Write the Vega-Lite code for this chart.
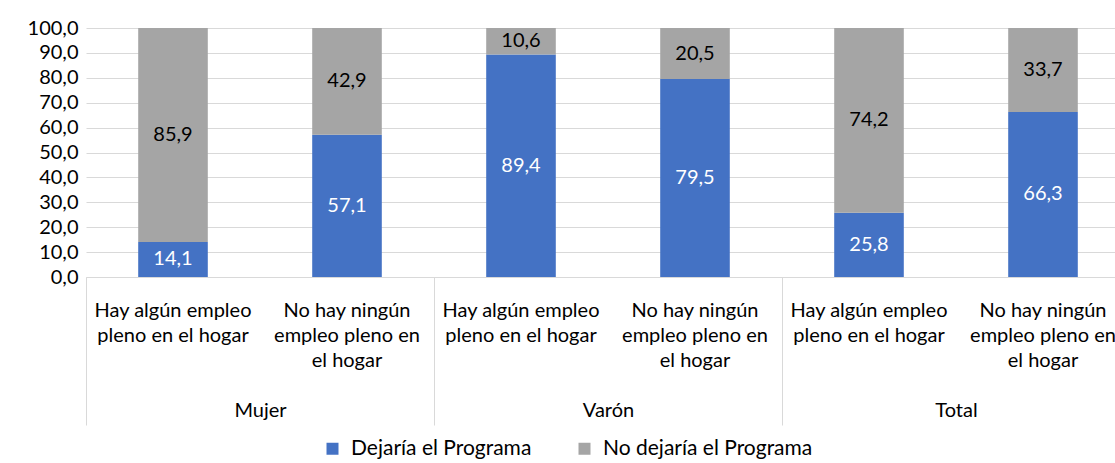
{
  "$schema": "https://vega.github.io/schema/vega-lite/v6.json",
  "autosize": {"type": "none"},
  "padding": {"left": 86, "top": 28, "right": 0, "bottom": 186},
  "width": 1044,
  "height": 249,
  "config": {
    "font": "Lato",
    "view": {"stroke": null},
    "locale": {"number": {"decimal": ",", "thousands": ".", "grouping": [3], "currency": ["", " €"]}},
    "axis": {"labelFont": "Lato", "labelColor": "#000000", "title": null},
    "axisY": {"values": [0, 10, 20, 30, 40, 50, 60, 70, 80, 90, 100], "format": ".1f", "labelFontSize": 20, "labelPadding": 8, "labelOverlap": false, "domain": false, "ticks": false, "grid": true, "gridColor": "#d9d9d9"}
  },
  "data": {
    "values": [
      {"cat": "Mujer|Hay algún empleo|pleno en el hogar", "group": "Mujer", "serie": "Dejaría el Programa", "value": 14.1},
      {"cat": "Mujer|Hay algún empleo|pleno en el hogar", "group": "Mujer", "serie": "No dejaría el Programa", "value": 85.9},
      {"cat": "Mujer|No hay ningún|empleo pleno en|el hogar", "group": "Mujer", "serie": "Dejaría el Programa", "value": 57.1},
      {"cat": "Mujer|No hay ningún|empleo pleno en|el hogar", "group": "Mujer", "serie": "No dejaría el Programa", "value": 42.9},
      {"cat": "Varón|Hay algún empleo|pleno en el hogar", "group": "Varón", "serie": "Dejaría el Programa", "value": 89.4},
      {"cat": "Varón|Hay algún empleo|pleno en el hogar", "group": "Varón", "serie": "No dejaría el Programa", "value": 10.6},
      {"cat": "Varón|No hay ningún|empleo pleno en|el hogar", "group": "Varón", "serie": "Dejaría el Programa", "value": 79.5},
      {"cat": "Varón|No hay ningún|empleo pleno en|el hogar", "group": "Varón", "serie": "No dejaría el Programa", "value": 20.5},
      {"cat": "Total|Hay algún empleo|pleno en el hogar", "group": "Total", "serie": "Dejaría el Programa", "value": 25.8},
      {"cat": "Total|Hay algún empleo|pleno en el hogar", "group": "Total", "serie": "No dejaría el Programa", "value": 74.2},
      {"cat": "Total|No hay ningún|empleo pleno en|el hogar", "group": "Total", "serie": "Dejaría el Programa", "value": 66.3},
      {"cat": "Total|No hay ningún|empleo pleno en|el hogar", "group": "Total", "serie": "No dejaría el Programa", "value": 33.7}
    ]
  },
  "layer": [
    {
      "mark": {"type": "bar"},
      "encoding": {
        "x": {
          "field": "cat", "type": "nominal", "sort": null,
          "scale": {"paddingInner": 0.6, "paddingOuter": 0.3},
          "axis": {
            "labelExpr": "slice(split(datum.label, '|'), 1)",
            "labelAngle": 0, "labelFontSize": 20, "labelLineHeight": 25,
            "labelBaseline": "top", "labelPadding": 23, "labelLimit": 0,
            "labelOverlap": false, "ticks": false, "domain": true,
            "domainColor": "#d9d9d9", "domainWidth": 1, "grid": false
          }
        },
        "y": {
          "field": "value", "type": "quantitative", "stack": "zero",
          "scale": {"domain": [0, 100], "nice": false},
          "axis": {"values": [0, 10, 20, 30, 40, 50, 60, 70, 80, 90, 100], "format": ".1f", "labelOverlap": false}
        },
        "order": {"field": "serie", "sort": "ascending"},
        "color": {
          "field": "serie", "type": "nominal",
          "scale": {"domain": ["Dejaría el Programa", "No dejaría el Programa"], "range": ["#4472C4", "#A5A5A5"]},
          "legend": {
            "orient": "none", "legendX": 236, "legendY": 410, "direction": "horizontal",
            "title": null, "symbolType": "square", "symbolSize": 144, "symbolStrokeWidth": 0,
            "labelFontSize": 21, "labelColor": "#000000", "labelLimit": 0, "columnPadding": 42, "labelOffset": 8
          }
        }
      }
    },
    {
      "transform": [
        {"stack": "value", "groupby": ["cat"], "sort": [{"field": "serie", "order": "ascending"}], "as": ["v0", "v1"]},
        {"calculate": "(datum.v0 + datum.v1) / 2", "as": "mid"}
      ],
      "mark": {"type": "text", "fontSize": 20, "baseline": "middle", "align": "center"},
      "encoding": {
        "x": {"field": "cat", "type": "nominal", "sort": null, "scale": {"paddingInner": 0.6, "paddingOuter": 0.3}, "axis": null},
        "y": {"field": "mid", "type": "quantitative", "axis": {"values": [0, 10, 20, 30, 40, 50, 60, 70, 80, 90, 100], "format": ".1f", "labelOverlap": false}},
        "text": {"field": "value", "type": "quantitative", "format": ".1f"},
        "color": {"condition": {"test": "datum.serie == 'Dejaría el Programa'", "value": "#ffffff"}, "value": "#000000"}
      }
    },
    {
      "mark": {"type": "tick", "opacity": 0},
      "encoding": {
        "x": {
          "field": "group", "type": "nominal", "sort": null,
          "scale": {"paddingInner": 0, "paddingOuter": 0},
          "axis": {
            "orient": "bottom", "domain": false, "ticks": true, "tickBand": "extent",
            "tickSize": 148, "tickColor": "#d9d9d9", "tickWidth": 1,
            "labelAngle": 0, "labelFontSize": 20, "labelPadding": -15, "labelBaseline": "middle",
            "grid": false
          }
        }
      }
    }
  ],
  "resolve": {"scale": {"x": "independent"}, "axis": {"x": "independent"}}
}
